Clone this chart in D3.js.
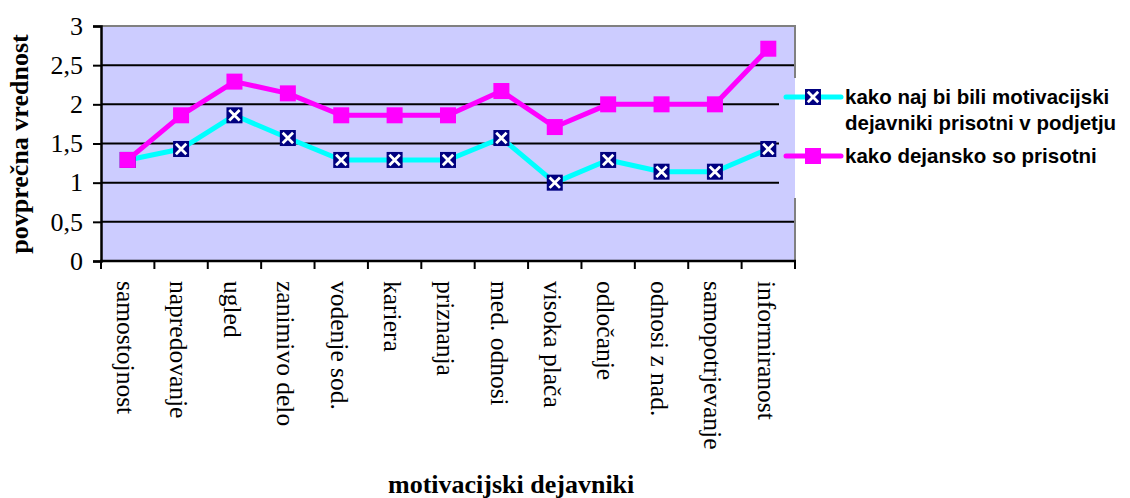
<!DOCTYPE html>
<html>
<head>
<meta charset="utf-8">
<script src="https://cdn.jsdelivr.net/npm/d3@7"></script>
<style>
  html, body { margin: 0; padding: 0; background: #ffffff; }
  svg { display: block; }
</style>
</head>
<body>
<svg id="chart" width="1130" height="498"></svg>
<script>
// Categories (motivational factors)
const categories = [
  "samostojnost", "napredovanje", "ugled", "zanimivo delo", "vodenje sod.",
  "kariera", "priznanja", "med. odnosi", "visoka plača", "odločanje",
  "odnosi z nad.", "samopotrjevanje", "informiranost"
];
// How the factors should be present in the company
const desiredValues = [1.29, 1.43, 1.86, 1.57, 1.29, 1.29, 1.29, 1.57, 1.00, 1.29, 1.14, 1.14, 1.43];
// How they are actually present
const actualValues = [1.29, 1.86, 2.29, 2.14, 1.86, 1.86, 1.86, 2.17, 1.71, 2.00, 2.00, 2.00, 2.71];
const yTicks = [0, 0.5, 1, 1.5, 2, 2.5, 3];
const seriesNames = [
  ["kako naj bi bili motivacijski", "dejavniki prisotni v podjetju"],
  ["kako dejansko so prisotni"]
];

const svg = d3.select("#chart");
const plot = { left: 101, right: 795, top: 26, bottom: 261 };
const legendBox = { left: 779, top: 78, bottom: 198 };

const x = d3.scaleBand().domain(categories).range([plot.left, plot.right]).padding(0);
const y = d3.scaleLinear().domain([0, 3]).range([plot.bottom, plot.top]);
const fmt = v => String(v).replace(".", ",");

// plot background
svg.append("rect")
  .attr("x", plot.left).attr("y", plot.top)
  .attr("width", plot.right - plot.left).attr("height", plot.bottom - plot.top)
  .attr("fill", "#ccccff");

// horizontal gridlines (cut short where the legend sits)
svg.append("g").selectAll("line")
  .data(yTicks.filter(t => t > 0 && t < 3))
  .join("line")
  .attr("x1", plot.left)
  .attr("x2", t => (y(t) > legendBox.top && y(t) < legendBox.bottom) ? legendBox.left : plot.right)
  .attr("y1", t => y(t)).attr("y2", t => y(t))
  .attr("stroke", "#000").attr("stroke-width", 2);

// top and right frame (gray)
svg.append("line")
  .attr("x1", plot.left).attr("x2", plot.right + 1)
  .attr("y1", plot.top).attr("y2", plot.top)
  .attr("stroke", "#808080").attr("stroke-width", 2);
svg.append("line")
  .attr("x1", plot.right).attr("x2", plot.right)
  .attr("y1", plot.top).attr("y2", legendBox.top)
  .attr("stroke", "#808080").attr("stroke-width", 2);
svg.append("line")
  .attr("x1", plot.right).attr("x2", plot.right)
  .attr("y1", legendBox.bottom).attr("y2", plot.bottom)
  .attr("stroke", "#808080").attr("stroke-width", 2);

// y axis
const yAxis = svg.append("g")
  .attr("transform", `translate(${plot.left},0)`)
  .call(d3.axisLeft(y).tickValues(yTicks).tickFormat(fmt).tickSize(8).tickPadding(10));
yAxis.select(".domain").attr("stroke", "#000").attr("stroke-width", 2.5);
yAxis.selectAll(".tick line").attr("stroke", "#000").attr("stroke-width", 2);
yAxis.selectAll(".tick text")
  .attr("font-family", "'Liberation Serif', 'Times New Roman', serif")
  .attr("font-size", 26).attr("fill", "#000");

// x axis with boundary ticks
const boundaries = categories.map(c => x(c)).concat([plot.right]);
svg.append("line")
  .attr("x1", plot.left - 1).attr("x2", plot.right + 1)
  .attr("y1", plot.bottom).attr("y2", plot.bottom)
  .attr("stroke", "#000").attr("stroke-width", 2.5);
svg.append("g").selectAll("line")
  .data(boundaries)
  .join("line")
  .attr("x1", d => d).attr("x2", d => d)
  .attr("y1", plot.bottom).attr("y2", plot.bottom + 8)
  .attr("stroke", "#000").attr("stroke-width", 2);

// rotated category labels
svg.append("g").selectAll("text")
  .data(categories)
  .join("text")
  .attr("transform", d => `translate(${x(d) + x.bandwidth() / 2},281) rotate(90)`)
  .attr("dy", "0.42em")
  .attr("text-anchor", "start")
  .attr("font-family", "'Liberation Serif', 'Times New Roman', serif")
  .attr("font-size", 25.5)
  .attr("fill", "#000")
  .text(d => d);

// axis titles
svg.append("text")
  .attr("transform", "translate(28,144) rotate(-90)")
  .attr("text-anchor", "middle")
  .attr("font-family", "'Liberation Serif', 'Times New Roman', serif")
  .attr("font-weight", "bold").attr("font-size", 26)
  .text("povprečna vrednost");
svg.append("text")
  .attr("x", 388).attr("y", 493)
  .attr("font-family", "'Liberation Serif', 'Times New Roman', serif")
  .attr("font-weight", "bold").attr("font-size", 26)
  .text("motivacijski dejavniki");

// series
const line = d3.line()
  .x((d, i) => x(categories[i]) + x.bandwidth() / 2)
  .y(d => y(d));

function crossMarker(g, cx, cy) {
  const s = 16, h = s / 2, m = 2.8;
  g.append("rect").attr("x", cx - h).attr("y", cy - h).attr("width", s).attr("height", s)
    .attr("fill", "#000080");
  g.append("path")
    .attr("d", `M${cx - h + m},${cy - h + m}L${cx + h - m},${cy + h - m}M${cx + h - m},${cy - h + m}L${cx - h + m},${cy + h - m}`)
    .attr("stroke", "#fff").attr("stroke-width", 2.8).attr("fill", "none");
}
function squareMarker(g, cx, cy) {
  const s = 16;
  g.append("rect").attr("x", cx - s / 2).attr("y", cy - s / 2).attr("width", s).attr("height", s)
    .attr("fill", "#ff00ff");
}

const desiredG = svg.append("g");
desiredG.append("path").attr("d", line(desiredValues))
  .attr("fill", "none").attr("stroke", "#00ffff").attr("stroke-width", 5)
  .attr("stroke-linejoin", "round");
desiredValues.forEach((v, i) => crossMarker(desiredG, x(categories[i]) + x.bandwidth() / 2, y(v)));

const actualG = svg.append("g");
actualG.append("path").attr("d", line(actualValues))
  .attr("fill", "none").attr("stroke", "#ff00ff").attr("stroke-width", 5)
  .attr("stroke-linejoin", "round");
actualValues.forEach((v, i) => squareMarker(actualG, x(categories[i]) + x.bandwidth() / 2, y(v)));

// legend
const legend = svg.append("g");
const legendItems = [
  { color: "#00ffff", marker: crossMarker, cy: 97, lines: seriesNames[0] },
  { color: "#ff00ff", marker: squareMarker, cy: 156, lines: seriesNames[1] }
];
legendItems.forEach(item => {
  legend.append("line")
    .attr("x1", 786).attr("x2", 841).attr("y1", item.cy).attr("y2", item.cy)
    .attr("stroke", item.color).attr("stroke-width", 5).attr("stroke-linecap", "round");
  item.marker(legend, 813, item.cy);
  item.lines.forEach((t, k) => {
    legend.append("text")
      .attr("x", 845).attr("y", item.cy + 7 + k * 26)
      .attr("font-family", "'Liberation Sans', Arial, sans-serif")
      .attr("font-weight", "bold").attr("font-size", 20.5)
      .attr("fill", "#000")
      .text(t);
  });
});
</script>
</body>
</html>
